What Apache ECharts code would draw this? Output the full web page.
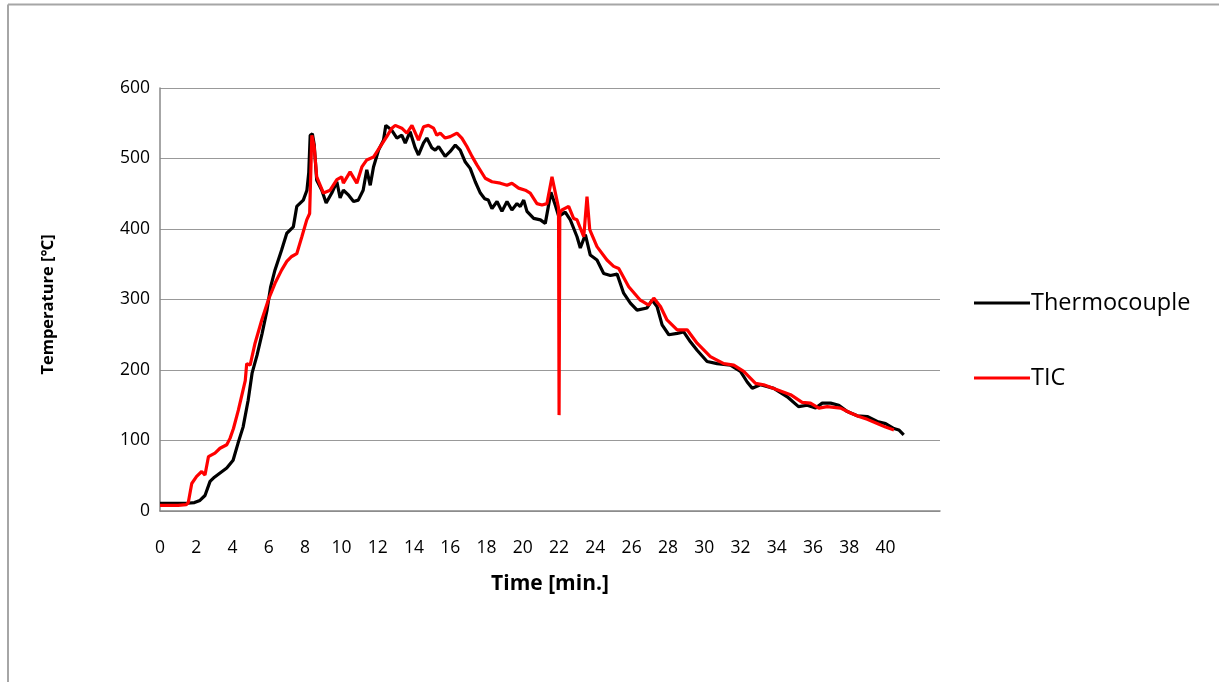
<!DOCTYPE html>
<html>
<head>
<meta charset="utf-8">
<script src="https://cdn.jsdelivr.net/npm/echarts@6/dist/echarts.min.js"></script>
<style>
html,body{margin:0;padding:0;background:#fff;}
#chart{width:1219px;height:682px;}
</style>
</head>
<body>
<div id="chart"></div>
<script>
// Thermocouple: time [min] and temperature [°C]
var tcTime = [0,0.5,1.0,1.5,1.9,2.2,2.48,2.76,3.0,3.31,3.68,4.03,4.3,4.58,4.86,5.08,5.35,5.63,5.9,6.1,6.34,6.7,6.99,7.35,7.54,7.9,8.1,8.2,8.28,8.4,8.5,8.64,8.92,9.16,9.47,9.75,9.93,10.11,10.4,10.67,10.93,11.2,11.4,11.59,11.77,12.05,12.32,12.45,12.78,13.06,13.33,13.52,13.79,14.07,14.25,14.53,14.71,14.99,15.17,15.36,15.72,16.0,16.28,16.55,16.83,17.1,17.38,17.66,17.9,18.1,18.3,18.58,18.85,19.13,19.4,19.68,19.86,20.05,20.23,20.6,20.97,21.24,21.55,21.79,21.98,22.34,22.62,22.99,23.17,23.45,23.72,24.09,24.46,24.83,25.2,25.56,25.93,26.3,26.85,27.13,27.4,27.68,28.05,28.51,28.87,29.24,29.61,30.16,30.71,31.45,32.0,32.37,32.65,33.1,33.84,34.58,35.2,35.68,36.14,36.51,36.97,37.42,37.89,38.44,38.99,39.54,40.0,40.46,40.73,41.0];
var tcTemp = [11,11,11,11,12,15,22,42,48,54,61,72,96,119,157,196,221,252,285,318,342,370,394,403,432,441,455,480,533,535,520,469,455,437,451,467,444,455,448,439,441,455,484,462,488,512,526,547,540,529,533,522,538,515,505,522,529,515,512,517,503,510,519,512,495,486,467,451,443,441,429,439,425,439,427,436,432,441,425,415,413,408,452,434,418,424,413,389,373,392,363,356,337,334,336,309,295,285,288,299,290,264,250,252,254,240,228,212,209,207,198,183,174,179,174,162,148,150,146,153,153,150,141,135,134,127,124,117,115,108];

// TIC: time [min] and temperature [°C]
var ticTime = [0,0.5,1.0,1.45,1.56,1.75,2.02,2.3,2.48,2.67,3.03,3.31,3.68,3.86,4.05,4.32,4.6,4.7,4.78,4.97,5.24,5.61,5.98,6.34,6.71,6.99,7.26,7.54,7.82,8.09,8.25,8.37,8.5,8.64,9.01,9.38,9.75,10.02,10.11,10.48,10.85,11.13,11.4,11.77,12.14,12.5,12.78,12.97,13.33,13.61,13.89,14.25,14.53,14.8,15.08,15.26,15.45,15.72,16.0,16.37,16.64,16.92,17.2,17.47,17.93,18.3,18.76,19.13,19.4,19.77,20.14,20.41,20.78,21.06,21.33,21.61,21.88,21.97,22.0,22.04,22.16,22.53,22.8,22.99,23.36,23.54,23.69,24.09,24.64,25.01,25.29,25.84,26.48,26.94,27.22,27.59,27.95,28.51,29.06,29.61,30.34,31.08,31.63,32.18,32.83,33.28,34.02,34.76,35.4,35.86,36.32,36.78,37.52,38.07,38.53,38.99,39.54,40.0,40.46];
var ticTemp = [8,8,8,9,12,39,49,56,51,77,82,89,94,103,117,143,174,185,209,207,238,271,300,323,342,354,361,365,389,413,422,533,517,474,451,455,470,474,465,481,465,488,498,502,517,531,543,547,543,536,547,526,545,547,543,533,536,529,531,536,529,517,503,491,472,467,465,462,465,458,455,451,436,434,436,474,441,430,136,422,427,432,415,413,389,446,399,375,356,347,344,318,299,292,302,290,271,257,257,238,219,209,207,198,181,179,172,165,154,153,146,148,146,139,134,130,124,119,115];

var seriesNames = ['Thermocouple', 'TIC'];
var xTickLabels = ['0','2','4','6','8','10','12','14','16','18','20','22','24','26','28','30','32','34','36','38','40'];
var yTickLabels = ['0','100','200','300','400','500','600'];

function pairs(t, v){ var out=[]; for(var i=0;i<t.length;i++){ out.push([t[i], v[i]]); } return out; }

var chart = echarts.init(document.getElementById('chart'), null, {renderer:'canvas'});
var font = "'Open Sans', 'Noto Sans', sans-serif";
chart.setOption({
  backgroundColor: '#ffffff',
  animation: false,
  textStyle: {fontFamily: font},
  graphic: [
    {type:'line', shape:{x1:8, y1:4.5, x2:1219, y2:4.5}, style:{stroke:'#a6a6a6', lineWidth:2}},
    {type:'line', shape:{x1:8, y1:4.5, x2:8, y2:682}, style:{stroke:'#a6a6a6', lineWidth:2}}
  ],
  grid: {left:160, right:279, top:88, bottom:171, containLabel:false},
  legend: {
    orient: 'vertical',
    left: 969,
    top: 283,
    itemWidth: 56,
    itemHeight: 3,
    itemGap: 45,
    icon: 'rect',
    data: seriesNames,
    textStyle: {fontFamily: font, fontSize: 23.5, color:'#000', lineHeight: 30, padding:[0,0,0,-4]}
  },
  xAxis: {
    type: 'value',
    min: 0, max: 43, interval: 2,
    name: 'Time [min.]',
    nameLocation: 'middle',
    nameGap: 63,
    nameTextStyle: {fontFamily: font, fontSize: 21, fontWeight:'bold', color:'#000'},
    axisLine: {show:true, lineStyle:{color:'#888', width:1.5}},
    axisTick: {show:false},
    splitLine: {show:false},
    axisLabel: {
      margin: 28, fontSize: 17.5, color:'#000', fontFamily: font,
      formatter: function(v){ var s = String(v); return xTickLabels.indexOf(s) >= 0 ? s : ''; }
    }
  },
  yAxis: {
    type: 'value',
    min: 0, max: 600, interval: 100,
    name: 'Temperature [℃]',
    nameLocation: 'middle',
    nameGap: 103,
    nameTextStyle: {fontFamily: font, fontSize: 16.5, fontWeight:'bold', color:'#000', padding:[0,0,0,-10]},
    axisLine: {show:true, lineStyle:{color:'#888', width:1.5}},
    axisTick: {show:false},
    splitLine: {show:true, lineStyle:{color:'#999', width:1.2}},
    axisLabel: {
      margin: 10, fontSize: 17.5, color:'#000', fontFamily: font,
      formatter: function(v){ var s = String(v); return yTickLabels.indexOf(s) >= 0 ? s : ''; }
    }
  },
  series: [
    {name: seriesNames[0], type:'line', data: pairs(tcTime, tcTemp), showSymbol:false, symbol:'none',
     lineStyle:{color:'#000000', width:3.2}, itemStyle:{color:'#000000'}},
    {name: seriesNames[1], type:'line', data: pairs(ticTime, ticTemp), showSymbol:false, symbol:'none',
     lineStyle:{color:'#ff0000', width:3.2}, itemStyle:{color:'#ff0000'}}
  ]
});
</script>
</body>
</html>
